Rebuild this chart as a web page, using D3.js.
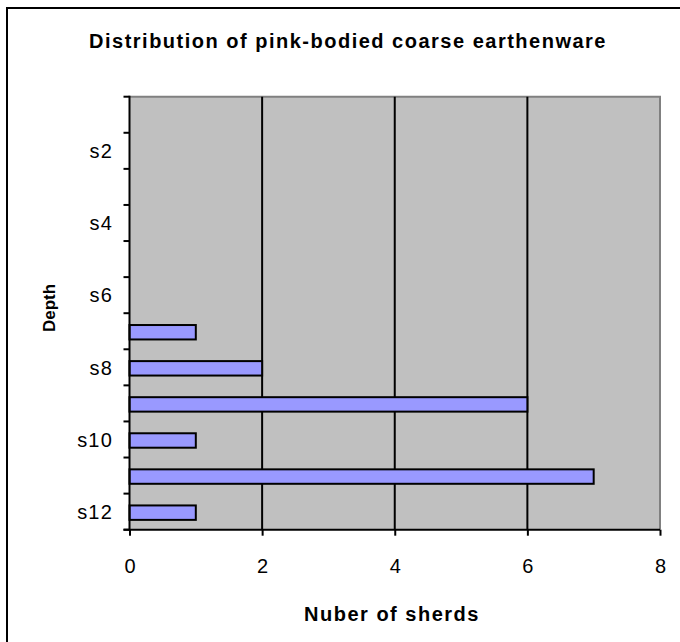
<!DOCTYPE html>
<html>
<head>
<meta charset="utf-8">
<script src="https://cdn.jsdelivr.net/npm/d3@7"></script>
<style>
  html, body { margin: 0; padding: 0; background: #fff; }
  svg { display: block; font-family: Arial, "Liberation Sans", sans-serif; }
</style>
</head>
<body>
<svg id="chart" width="680" height="642"></svg>
<script>
// Depth samples (top to bottom) and sherd counts per sample
const depths = ["s1", "s2", "s3", "s4", "s5", "s6", "s7", "s8", "s9", "s10", "s11", "s12"];
const sherds = [0, 0, 0, 0, 0, 0, 1, 2, 6, 1, 7, 1];
const depthLabels = ["s2", "s4", "s6", "s8", "s10", "s12"];
const countTicks = [0, 2, 4, 6, 8];

const titleText = "Distribution of pink-bodied coarse earthenware";
const xTitle = "Nuber of sherds";
const yTitle = "Depth";

const svg = d3.select("#chart");
const plot = { left: 129.5, right: 660, top: 96.7, bottom: 529.7 };

const x = d3.scaleLinear().domain([0, 8]).range([plot.left, plot.right]);
const y = d3.scaleBand().domain(depths).range([plot.top, plot.bottom]).paddingInner(0).paddingOuter(0);

// Chart-area frame (continues past the right and bottom edges)
svg.append("rect")
  .attr("x", 7).attr("y", 8).attr("width", 760).attr("height", 700)
  .attr("fill", "#fff").attr("stroke", "#000").attr("stroke-width", 2);

// Title
svg.append("text")
  .attr("x", 348).attr("y", 48)
  .attr("text-anchor", "middle")
  .attr("font-weight", "bold").attr("font-size", 20)
  .attr("letter-spacing", 1.5)
  .text(titleText);

// Plot background
svg.append("rect")
  .attr("x", plot.left).attr("y", plot.top)
  .attr("width", plot.right - plot.left).attr("height", plot.bottom - plot.top)
  .attr("fill", "#c0c0c0");

// Top and right plot edges
svg.append("path")
  .attr("d", `M${plot.left},${plot.top}H${plot.right}V${plot.bottom}`)
  .attr("fill", "none").attr("stroke", "#808080").attr("stroke-width", 2);

// Vertical gridlines
svg.append("g").selectAll("line")
  .data(countTicks.filter(d => d > 0 && d < 8))
  .join("line")
  .attr("x1", d => x(d)).attr("x2", d => x(d))
  .attr("y1", plot.top).attr("y2", plot.bottom)
  .attr("stroke", "#000").attr("stroke-width", 2);

// Bars
const barH = y.bandwidth() * 0.4;
svg.append("g").selectAll("rect")
  .data(depths.map((d, i) => ({ depth: d, value: sherds[i] })).filter(d => d.value > 0))
  .join("rect")
  .attr("x", x(0))
  .attr("y", d => y(d.depth) + (y.bandwidth() - barH) / 2 + 1)
  .attr("width", d => x(d.value) - x(0))
  .attr("height", barH)
  .attr("fill", "#9999ff")
  .attr("stroke", "#000").attr("stroke-width", 2);

// Y axis: ticks at band boundaries, labels on every other sample
const yAxis = svg.append("g");
const boundaries = depths.map(d => y(d)).concat([y.range()[1]]);
yAxis.selectAll("line.tick")
  .data(boundaries)
  .join("line")
  .attr("class", "tick")
  .attr("x1", plot.left - 6).attr("x2", plot.left)
  .attr("y1", d => d).attr("y2", d => d)
  .attr("stroke", "#000").attr("stroke-width", 2);
yAxis.append("line")
  .attr("x1", plot.left).attr("x2", plot.left)
  .attr("y1", plot.top - 1).attr("y2", plot.bottom + 1)
  .attr("stroke", "#000").attr("stroke-width", 2);
yAxis.selectAll("text")
  .data(depthLabels)
  .join("text")
  .attr("x", 113)
  .attr("y", d => y(d) + y.bandwidth() / 2)
  .attr("dy", "0.36em")
  .attr("text-anchor", "end")
  .attr("font-size", 20)
  .attr("letter-spacing", 1.2)
  .text(d => d);

// X axis
const xAxis = svg.append("g")
  .attr("transform", `translate(0,${plot.bottom})`)
  .call(d3.axisBottom(x).tickValues(countTicks).tickSize(6).tickPadding(23).tickFormat(d3.format("d")));
xAxis.select(".domain").attr("stroke", "#000").attr("stroke-width", 2)
  .attr("d", `M${plot.left - 6},0H${plot.right}`);
xAxis.selectAll(".tick line").attr("stroke", "#000").attr("stroke-width", 2);
xAxis.selectAll(".tick text")
  .attr("font-size", 20).attr("fill", "#000")
  .attr("font-family", "Arial, 'Liberation Sans', sans-serif");

// Axis titles
svg.append("text")
  .attr("x", 392).attr("y", 621)
  .attr("text-anchor", "middle")
  .attr("font-weight", "bold").attr("font-size", 20)
  .attr("letter-spacing", 1.5)
  .text(xTitle);

svg.append("text")
  .attr("transform", `translate(55,308) rotate(-90)`)
  .attr("text-anchor", "middle")
  .attr("font-weight", "bold").attr("font-size", 17)
  .text(yTitle);
</script>
</body>
</html>
